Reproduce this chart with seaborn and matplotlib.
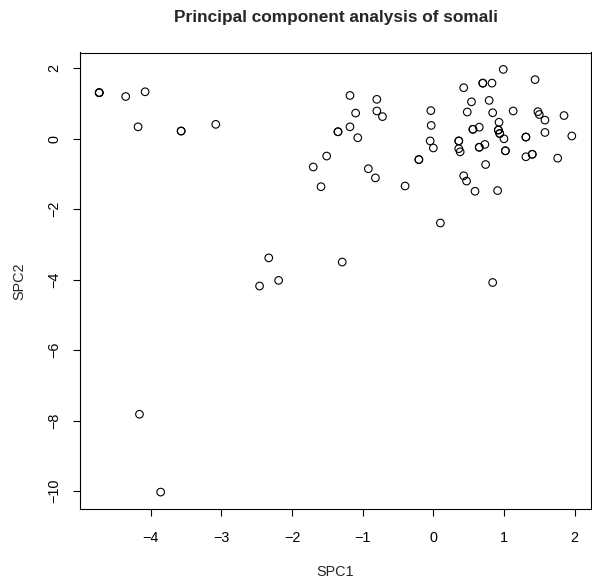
import matplotlib
matplotlib.use("Agg")
import matplotlib.pyplot as plt
import seaborn as sns
import pandas as pd
import numpy as np

# SPC1 / SPC2 scores (duplicates represent overlapping points)
spc1 = [-4.73, -4.73, -4.73, -4.355, -4.08, -4.18, -3.57, -3.57, -3.08,
        -1.35, -1.35, -1.51, -1.70, -1.59, -2.33, -2.19, -2.46, -1.29,
        -4.16, -3.86,
        0.99, 0.70, 0.70, 0.83, 1.44, 0.43, -1.18, -0.80, 0.54, 0.79,
        -1.10, -0.80, -0.72, -0.035, 0.48, 0.84, 1.13, 1.48, 1.50, 1.58,
        1.85, 0.93, -1.18, -0.03, 0.65, 0.56, 0.56, 0.92, 0.92, 0.94, 0.94,
        1.58, 1.96, -1.07, 1.00, 1.31, 1.31, -0.045, 0.36, 0.36, 0.73,
        0.65, 0.65, 0.00, 0.36, 0.38, 1.02, 1.02, 1.40, 1.40, 1.31, 1.76,
        -0.205, -0.205, -0.92, 0.74, 0.43, 0.47, -0.82, -0.40, 0.59, 0.91,
        0.10, 0.84]
spc2 = [1.31, 1.31, 1.31, 1.20, 1.335, 0.34, 0.22, 0.22, 0.41,
        0.20, 0.20, -0.49, -0.80, -1.36, -3.38, -4.02, -4.18, -3.50,
        -7.82, -10.03,
        1.97, 1.58, 1.58, 1.58, 1.68, 1.45, 1.23, 1.12, 1.05, 1.09,
        0.73, 0.79, 0.63, 0.80, 0.76, 0.74, 0.79, 0.77, 0.69, 0.53,
        0.66, 0.47, 0.34, 0.38, 0.33, 0.27, 0.27, 0.25, 0.25, 0.15, 0.15,
        0.18, 0.08, 0.03, 0.00, 0.05, 0.05, -0.06, -0.06, -0.06, -0.16,
        -0.24, -0.24, -0.26, -0.28, -0.37, -0.34, -0.34, -0.44, -0.44, -0.51, -0.55,
        -0.59, -0.59, -0.85, -0.73, -1.05, -1.20, -1.11, -1.34, -1.49, -1.47,
        -2.39, -4.08]
xticks = [-4, -3, -2, -1, 0, 1, 2]
yticks = [-10, -8, -6, -4, -2, 0, 2]
title = "Principal component analysis of somali"

df = pd.DataFrame({"SPC1": spc1, "SPC2": spc2})

sns.set_style("ticks")
plt.rcParams["font.family"] = ["Liberation Sans", "DejaVu Sans"]

fig = plt.figure(figsize=(5.92, 5.82), dpi=100)
ax = fig.add_axes([80.3 / 592, (582 - 509) / 582, (590.7 - 80.3) / 592, (509 - 52.5) / 582])

sns.scatterplot(data=df, x="SPC1", y="SPC2", ax=ax, s=30,
                facecolors="none", edgecolor="black", linewidth=0.8)

def lims(v):
    lo, hi = min(v), max(v)
    r = hi - lo
    return lo - 0.04 * r, hi + 0.04 * r

ax.set_xlim(*lims(spc1))
ax.set_ylim(*lims(spc2))
ax.set_xticks(xticks)
ax.set_yticks(yticks)
ax.set_xticklabels([str(t).replace("-", "\u2212") for t in xticks])
ax.set_yticklabels([str(t).replace("-", "\u2212") for t in yticks], rotation=90, va="center")

for sp in ax.spines.values():
    sp.set_visible(True)
    sp.set_color("black")
    sp.set_linewidth(0.8)
ax.tick_params(axis="both", direction="out", length=5, width=0.8, color="black",
               labelsize=10.4, labelcolor="black")
ax.tick_params(axis="x", pad=10.7)
ax.tick_params(axis="y", pad=8.5)

ax.set_xlabel("SPC1", fontsize=10.4, labelpad=14.5)
ax.set_ylabel("SPC2", fontsize=10.4, labelpad=15)
fig.text(0.5 * (80.3 + 590.7) / 592, 1 - 22.3 / 582, title, ha="center", va="baseline",
         fontsize=12.4, fontweight="bold")

fig.savefig("out.png", dpi=100, facecolor="white")
